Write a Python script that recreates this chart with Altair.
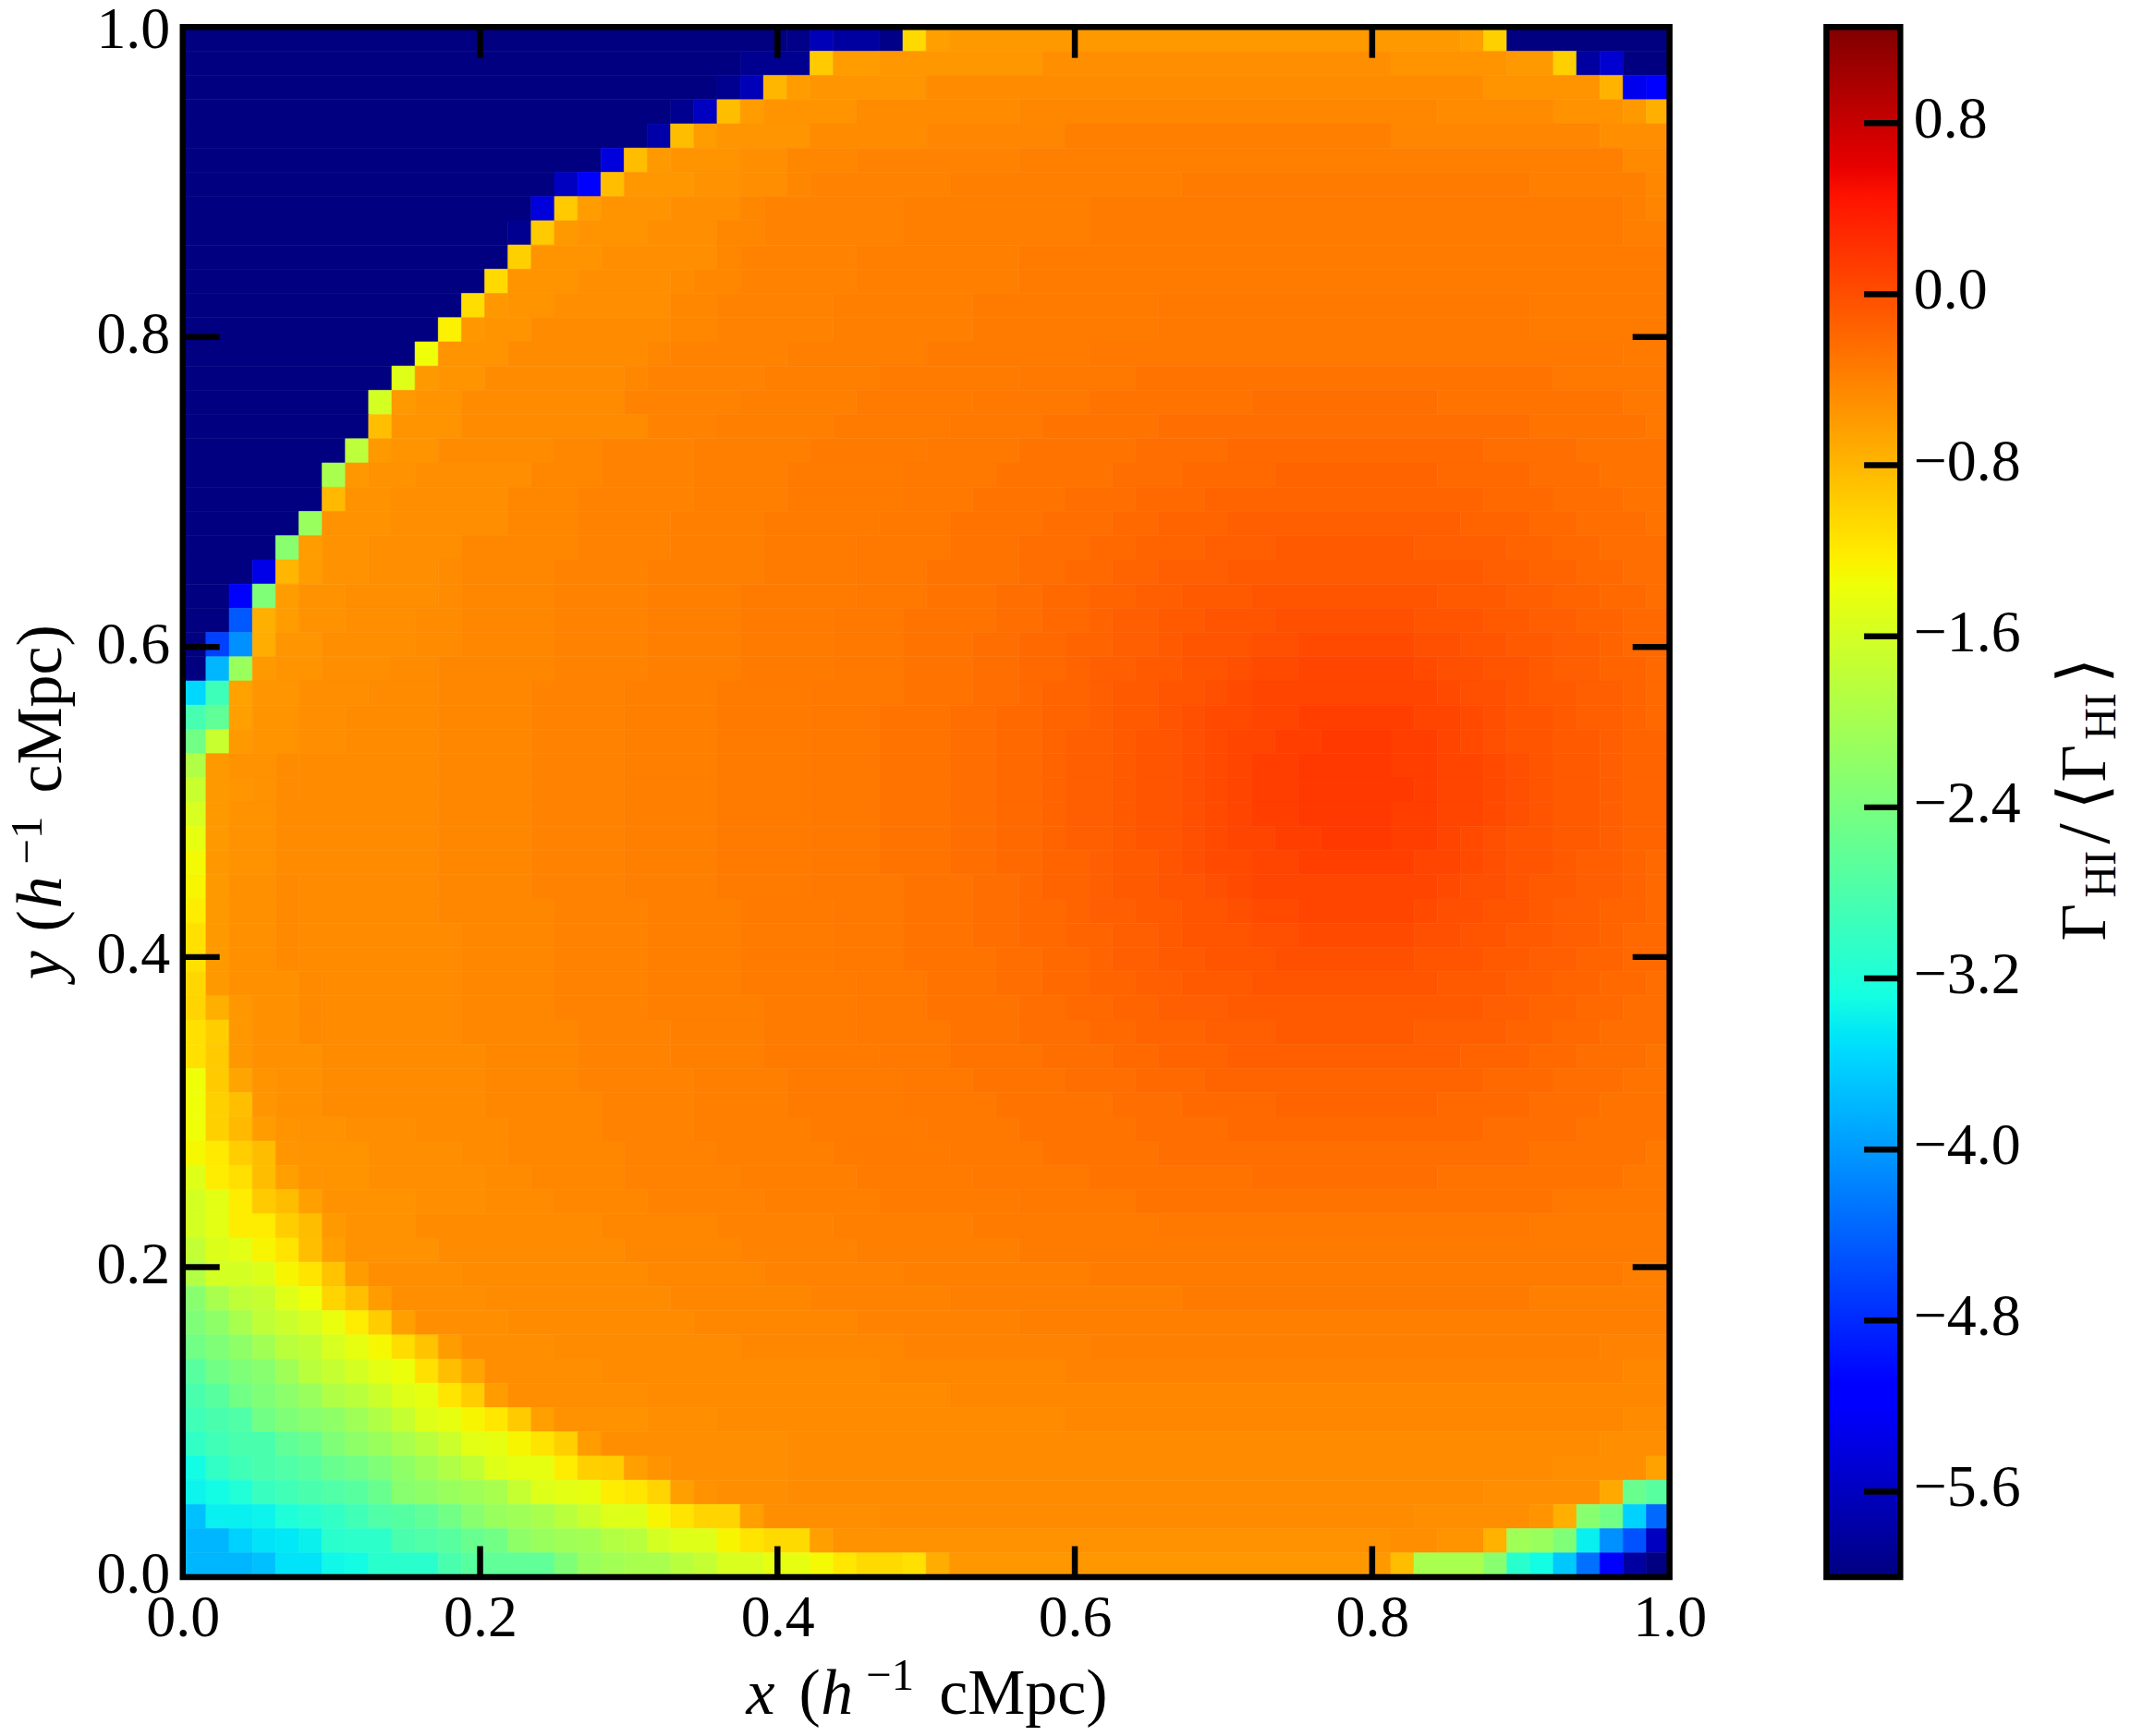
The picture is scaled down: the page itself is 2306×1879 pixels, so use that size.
import altair as alt
import pandas as pd

# Colour scale: jet, stops given in data units
STOP_T = [0, .11, .125, .34, .35, .375, .64, .65, .66, .89, .91, 1]
STOP_V = [-6.0, -5.2025, -5.094, -3.535, -3.4625, -3.281, -1.36, -1.2875, -1.215, .4525, .5975, 1.25]
STOP_C = ["#000080", "#0000ff", "#0000ff", "#00dbff", "#00e6f7", "#15ffe2",
          "#eeff08", "#f7f600", "#ffec00", "#ff1300", "#e80000", "#800000"]

AXIS_TICKS = [0.0, 0.2, 0.4, 0.6, 0.8, 1.0]
INNER_TICKS = [0.2, 0.4, 0.6, 0.8]
BAR_TICKS = [-5.6, -4.8, -4.0, -3.2, -2.4, -1.6, -0.8, 0.0, 0.8]

# Cell values, in hundredths, 64 x 64 grid.
LEVELS = [-47, -44, -41, -38, -35, -32, -29, -25, -21, -17, -13, -9, -5, -1, 3, 7, 12, 16]

INNER_LEFT = [
    [4,11,15,19,23,27,30,33,35,37,38,40,41,43,44,45,46,48],
    [4,11,15,19,23,27,30,33,35,37,38,40,41,43,44,45,46,48],
    [4,11,15,19,23,27,30,33,35,37,38,40,41,43,44,45,47,49],
    [4,11,15,19,23,27,30,33,35,37,39,40,42,43,44,46,48],
    [4,11,15,19,23,27,31,34,36,37,39,40,42,44,45,46],
    [4,11,16,20,24,28,31,34,36,38,39,41,43,45,46,48],
    [5,12,16,20,24,28,31,34,36,38,40,42,43,46,48],
    [5,12,16,20,24,28,31,35,37,39,40,42,44,47],
    [5,12,16,20,24,29,32,35,37,39,41,43,46],
    [5,12,16,20,25,29,32,36,38,40,42,45],
    [5,12,17,21,25,29,33,36,39,41,44,47],
    [5,13,17,21,25,30,33,37,40,42,45],
    [6,13,17,22,26,31,34,38,41,44],
    [6,13,18,22,26,31,35,40,43,47],
    [6,14,18,22,27,32,36,41,45],
    [6,14,19,23,28,33,37,42],
    [7,15,19,24,29,34,39,46],
    [8,16,20,25,30,36,41],
    [9,17,21,26,32,39],
    [9,18,23,28,34,42],
    [10,19,24,29,36],
    [11,20,25,31,39],
    [12,21,27,33,43],
    [13,22,29,36],
    [14,24,31,39],
    [16,27,34],
    [17,30,38],
    [20,33],
    [23,38],
    [26],
]
INNER_RIGHT = [
    [(53,12),(54,7),(56,3),(57,-1),(58,-5),(59,-9),(61,-13),(62,-17)],
    [(52,12),(54,7),(56,3),(57,-1),(58,-5),(59,-9),(61,-13),(62,-17)],
    [(52,12),(54,7),(55,3),(56,-1),(57,-5),(59,-9),(61,-13),(62,-17)],
    [(53,7),(55,3),(56,-1),(57,-5),(59,-9),(60,-13),(62,-17),(63,-21)],
    [(54,3),(55,-1),(57,-5),(58,-9),(60,-13),(62,-17),(63,-21)],
    [(53,3),(54,-1),(56,-5),(58,-9),(59,-13),(61,-17),(63,-21)],
    [(53,-1),(55,-5),(57,-9),(59,-13),(61,-17),(62,-21)],
    [(53,-5),(56,-9),(58,-13),(60,-17),(62,-21)],
    [(54,-9),(57,-13),(59,-17),(61,-21),(63,-25)],
    [(56,-13),(58,-17),(60,-21),(62,-25)],
    [(53,-13),(57,-17),(59,-21),(61,-25)],
    [(55,-17),(58,-21),(60,-25),(63,-29)],
    [(56,-21),(59,-25),(62,-29)],
    [(54,-21),(58,-25),(61,-29)],
    [(56,-25),(60,-29)],
    [(58,-29),(63,-32)],
    [(54,-29),(62,-32)],
    [(59,-32)],
    [(62,-35)],
    [(58,-35)],
    [],
    [(62,-38)],
    [(58,-38)],
    [],
    [(61,-41)],
    [],
    [(62,-44)],
    [],
    [(62,-47)],
    [],
]

# Which interior profile each row (0 = top) follows
ROW_PROFILE = [None, None, None, None, None, 23, 22, 21, 21, 20, 20, 19, 19, 18, 17, 16,
               15, 14, 13, 12, 11, 10, 9, 8, 7, 6, 5, 4, 3, 2, 1, 0,
               1, 2, 3, 4, 5, 6, 7, 8, 9, 10, 11, 12, 13, 14, 15, 16,
               17, 19, 20, 21, 22, 23, 24, 26, 27, 28, 29, 29, 29, None, None, None]

# Rows written out as (start column, value) runs
ROW_RUNS = {
    0: [(0,-600),(26,-595),(27,-565),(28,-580),(30,-595),(31,-108),(32,-62),(33,-58),(55,-62),(56,-100),(57,-600)],
    1: [(0,-600),(24,-590),(27,-95),(28,-60),(30,-56),(37,-50),(52,-53),(57,-58),(59,-100),(60,-580),(61,-550),(62,-600)],
    2: [(0,-600),(23,-590),(24,-565),(25,-80),(26,-60),(27,-55),(32,-48),(56,-53),(61,-78),(62,-530),(63,-520)],
    3: [(0,-600),(21,-590),(22,-560),(23,-85),(24,-60),(25,-54),(29,-47),(36,-44),(54,-47),(59,-52),(62,-58),(63,-75)],
    4: [(0,-600),(20,-575),(21,-85),(22,-60),(23,-55),(27,-47),(32,-43),(38,-38),(52,-43),(61,-50)],
    5: [(62,-46)],
    6: [(63,-44)],
    7: [(63,-42)],
    58: [(61,-50)],
    59: [(59,-50),(63,-65)],
    60: [(56,-50),(61,-70),(62,-255),(63,-269)],
    61: [(25,-50),(30,-48),(53,-50),(58,-53),(59,-75),(60,-226),(61,-247),(62,-360),(63,-435)],
    62: [(28,-52),(52,-50),(54,-53),(56,-77),(57,-206),(58,-211),(59,-234),(60,-339),(61,-407),(62,-452),(63,-560)],
    63: [(33,-56),(51,-58),(52,-85),(53,-198),(56,-226),(57,-310),(58,-330),(59,-367),(60,-430),(61,-520),(62,-580),(63,-600)],
}

# Left boundary of the disc: first column, then one value per column
ROW_EDGE = {
    5: (18, [-542,-85,-58,-53,-53,-53,-50,-50]),
    6: (16, [-560,-520,-87,-56,-56,-56,-52,-52,-50,-50]),
    7: (15, [-542,-95,-60,-53,-53,-53,-50,-50,-50]),
    8: (14, [-590,-95,-58,-53,-53,-53,-50,-50,-50]),
    9: (14, [-100,-54,-54,-54,-50,-50,-50,-50,-50]),
    10: (13, [-108,-54,-54,-54,-50,-50,-50,-50,-47]),
    11: (12, [-110,-56,-53,-53,-49,-49,-49,-49,-49]),
    12: (11, [-125,-56,-53,-53,-48,-48,-48,-48,-48,-48]),
    13: (10, [-136,-54,-54,-54,-48,-48,-48,-48,-48,-48]),
    14: (9, [-150,-58,-54,-54,-48,-48,-48,-48,-48,-48]),
    15: (8, [-160,-58,-54,-54,-48,-48,-48,-48,-48,-48,-48]),
    16: (8, [-87,-54,-54,-54,-47,-47,-47,-47,-47,-47,-47,-47]),
    17: (7, [-180,-58,-54,-54,-48,-48,-48,-48,-48]),
    18: (6, [-198,-57,-52,-52,-49,-49,-49,-49,-49]),
    19: (6, [-82,-52,-52,-49,-49,-49,-49,-49]),
    20: (5, [-211,-52,-52,-52,-49,-49,-49,-49,-49]),
    21: (4, [-226,-60,-52,-52,-49,-49,-49,-49]),
    22: (3, [-535,-80,-60,-52,-52,-49,-49,-49]),
    23: (2, [-520,-234,-61,-52,-52,-49,-49,-49,-49]),
    24: (2, [-447,-75,-60,-52,-52,-50,-50,-50]),
    25: (1, [-464,-407,-73,-55,-55,-49,-49,-49,-49]),
    26: (0, [-600,-379,-211,-58,-53,-53,-49,-49,-49]),
    27: (0, [-356,-293,-65,-55,-55,-49,-49,-49]),
    28: (0, [-285,-262,-62,-54,-54,-49,-49]),
    29: (0, [-247,-170,-58,-53,-53,-49,-49]),
    30: (0, [-191,-58,-52,-52,-48]),
    31: (0, [-170,-58,-55,-52,-48]),
    32: (0, [-156,-58,-52,-52,-47]),
    33: (0, [-143,-58,-52,-52,-47]),
    34: (0, [-132,-57,-52,-52,-47]),
    35: (0, [-128,-58,-51,-51,-46]),
    36: (0, [-122,-58,-51,-51,-46]),
    37: (0, [-112,-58,-51,-51,-46]),
    38: (0, [-112,-58,-51,-51,-46]),
    39: (0, [-105,-58,-51,-51,-51,-46]),
    40: (0, [-103,-75,-56,-51,-51,-46]),
    41: (0, [-112,-98,-56,-51,-51,-46]),
    42: (0, [-112,-95,-56,-51,-51,-51,-47,-47,-47]),
    43: (0, [-136,-95,-66,-53,-51,-51,-47,-47,-47]),
    44: (0, [-136,-100,-87,-55,-51,-51,-47]),
    45: (0, [-136,-100,-82,-60,-53,-52,-52,-49,-49,-49]),
    46: (0, [-130,-120,-98,-85,-55,-53,-53,-53,-50,-50,-50,-50]),
    47: (0, [-150,-122,-112,-85,-62,-54,-53,-53,-50,-50,-50,-50,-50]),
    48: (0, [-160,-147,-122,-95,-85,-63,-52,-52,-52,-52,-50,-50,-50]),
    49: (0, [-160,-147,-122,-122,-98,-85,-58,-52,-52,-52]),
    50: (0, [-175,-152,-147,-128,-115,-87,-63,-52,-52,-52,-52]),
    51: (0, [-188,-160,-160,-152,-128,-115,-90,-60,-50,-50,-50,-50]),
    52: (0, [-226,-198,-178,-172,-148,-136,-103,-87,-60,-50,-50,-50,-50]),
    53: (0, [-234,-220,-198,-178,-168,-156,-140,-122,-98,-63,-50,-50,-50,-50]),
    54: (0, [-247,-234,-220,-203,-182,-176,-156,-143,-130,-110,-90,-60,-50,-50,-50,-50]),
    55: (0, [-269,-247,-234,-226,-206,-182,-172,-160,-147,-138,-112,-87,-66,-50,-50,-50,-50,-50]),
    56: (0, [-282,-269,-247,-234,-223,-211,-191,-182,-168,-150,-143,-117,-98,-60,-50,-50,-50,-50,-50]),
    57: (0, [-290,-282,-276,-247,-234,-226,-220,-206,-191,-172,-150,-143,-128,-118,-95,-63,-52,-52,-52,-52]),
    58: (0, [-303,-290,-282,-282,-262,-255,-234,-220,-211,-198,-184,-168,-147,-143,-128,-115,-100,-60,-50,-50]),
    59: (0, [-330,-303,-290,-282,-276,-269,-255,-247,-234,-220,-206,-191,-176,-150,-143,-143,-122,-100,-98,-63,-54]),
    60: (0, [-336,-330,-318,-297,-290,-282,-276,-269,-255,-226,-220,-211,-206,-198,-172,-150,-147,-143,-122,-117,-103,-63,-52]),
    61: (0, [-373,-339,-339,-336,-320,-312,-303,-290,-276,-272,-262,-247,-226,-211,-206,-198,-182,-168,-150,-150,-128,-115,-103,-103,-63]),
    62: (0, [-379,-379,-360,-348,-345,-338,-310,-307,-307,-282,-276,-269,-255,-247,-220,-211,-206,-203,-188,-184,-160,-150,-150,-128,-115,-108,-108,-63]),
    63: (0, [-379,-379,-379,-373,-348,-348,-333,-330,-310,-310,-310,-282,-269,-262,-262,-262,-234,-211,-203,-198,-198,-184,-174,-155,-155,-143,-143,-132,-118,-108,-108,-112,-73]),
}

GRID = 64


def paint(cells, runs):
    for (start, value), nxt in zip(runs, list(runs[1:]) + [(GRID, None)]):
        for c in range(start, nxt[0]):
            cells[c] = value


records = []
for r in range(GRID):
    cells = [-50] * GRID
    k = ROW_PROFILE[r]
    if k is not None:
        paint(cells, list(zip(INNER_LEFT[k], LEVELS)) + INNER_RIGHT[k])
    if r in ROW_RUNS:
        paint(cells, ROW_RUNS[r])
    if r in ROW_EDGE:
        start, vals = ROW_EDGE[r]
        for c in range(start):
            cells[c] = -600
        for i, v in enumerate(vals):
            cells[start + i] = v
    c = 0
    while c < GRID:
        e = c
        while e + 1 < GRID and cells[e + 1] == cells[c]:
            e += 1
        records.append({"x": c / GRID, "x2": (e + 1) / GRID,
                        "y": (GRID - 1 - r) / GRID, "y2": (GRID - r) / GRID,
                        "v": cells[c] / 100})
        c = e + 1
cells_df = pd.DataFrame(records)

SERIF = "Liberation Serif"
LABEL_SIZE = 64
PLOT_W, PLOT_H = 1611, 1680
SPINE = 6.5
X_TICK_LEN = 33.5 / PLOT_H
Y_TICK_LEN = 40 / PLOT_W

xs = alt.Scale(domain=[0, 1], nice=False, zero=False)
ys = alt.Scale(domain=[0, 1], nice=False, zero=False)
cs = alt.Scale(domain=STOP_V, range=STOP_C, interpolate="rgb")

xaxis = alt.Axis(values=AXIS_TICKS, format=".1f", title=None, domain=False, ticks=False, grid=False,
                 labelFont=SERIF, labelFontSize=LABEL_SIZE, labelColor="black", labelPadding=13,
                 labelOverlap=False, labelFlush=False, labelBound=False)
yaxis = alt.Axis(values=AXIS_TICKS, format=".1f", title=None, domain=False, ticks=False, grid=False,
                 labelFont=SERIF, labelFontSize=LABEL_SIZE, labelColor="black", labelPadding=14,
                 labelOffset={"condition": {"test": "datum.value == 1", "value": 3}, "value": -2},
                 labelOverlap=False, labelFlush=False, labelBound=False)

heat = alt.Chart(cells_df).mark_rect(strokeWidth=0.6).encode(
    x=alt.X("x:Q", scale=xs, axis=xaxis),
    x2="x2:Q",
    y=alt.Y("y:Q", scale=ys, axis=yaxis),
    y2="y2:Q",
    color=alt.Color("v:Q", scale=cs, legend=None),
    stroke=alt.Stroke("v:Q", scale=cs, legend=None),
)

tick_rows = []
for t in INNER_TICKS:
    tick_rows += [
        {"x": t, "x2": t, "y": 0, "y2": X_TICK_LEN},
        {"x": t, "x2": t, "y": 1, "y2": 1 - X_TICK_LEN},
        {"x": 0, "x2": Y_TICK_LEN, "y": t, "y2": t},
        {"x": 1, "x2": 1 - Y_TICK_LEN, "y": t, "y2": t},
    ]


def frame_and_ticks(tick_df, x_scale, y_scale, x_axis, y_axis):
    rules = alt.Chart(tick_df).mark_rule(color="black", strokeWidth=SPINE).encode(
        x=alt.X("x:Q", scale=x_scale, axis=x_axis), x2="x2:Q",
        y=alt.Y("y:Q", scale=y_scale, axis=y_axis), y2="y2:Q")
    dom = y_scale.domain
    box = alt.Chart(pd.DataFrame({"a": [0], "b": [1], "c": [dom[0]], "d": [dom[1]]})).mark_rect(
        filled=False, stroke="black", strokeWidth=SPINE).encode(
        x=alt.X("a:Q", scale=x_scale, axis=x_axis), x2="b:Q",
        y=alt.Y("c:Q", scale=y_scale, axis=y_axis), y2="d:Q")
    return [rules, box]


def piece(text, px, py, size, ox, oy, italic=False, angle=0, font=SERIF):
    return alt.Chart(pd.DataFrame({"t": [text]})).mark_text(
        font=font, fontSize=size, fontStyle="italic" if italic else "normal",
        angle=angle, align="left", baseline="alphabetic", color="black",
    ).encode(text="t:N", x=alt.value(px - ox), y=alt.value(py - oy))


OX, OY = 194.5, 29.5
main_text = [
    piece("x", 805, 1858, 70, OX, OY, italic=True),
    piece("(", 862, 1858, 70, OX, OY),
    piece("h", 886, 1858, 70, OX, OY, italic=True),
    piece("\u22121", 935, 1832, 49, OX, OY),
    piece("cMpc)", 1014, 1858, 70, OX, OY),
    piece("y", 63, 1062, 70, OX, OY, italic=True, angle=270),
    piece("(", 63, 1010, 70, OX, OY, angle=270),
    piece("h", 63, 985, 70, OX, OY, italic=True, angle=270),
    piece("\u22121", 42, 937, 49, OX, OY, angle=270),
    piece("cMpc)", 63, 860, 70, OX, OY, angle=270),
]

main = alt.layer(heat, *frame_and_ticks(pd.DataFrame(tick_rows), xs, ys, xaxis, yaxis), *main_text).properties(
    width=PLOT_W, height=PLOT_H)

# Colour bar
bx = alt.Scale(domain=[0, 1], nice=False, zero=False)
by = alt.Scale(domain=[-6.0, 1.25], nice=False, zero=False)
gradient = alt.LinearGradient(
    gradient="linear", x1=0, x2=0, y1=1, y2=0,
    stops=[alt.GradientStop(color=c, offset=t) for t, c in zip(STOP_T, STOP_C)])
bar_axis = alt.Axis(values=BAR_TICKS, format=".1f", title=None, domain=False, ticks=False, grid=False,
                    orient="right", labelFont=SERIF, labelFontSize=LABEL_SIZE, labelColor="black",
                    labelPadding=14, labelOffset=-3.5, labelOverlap=False, labelFlush=False, labelBound=False)
bar_rect = alt.Chart(pd.DataFrame({"a": [0], "b": [1], "c": [-6.0], "d": [1.25]})).mark_rect(color=gradient).encode(
    x=alt.X("a:Q", scale=bx, axis=None), x2="b:Q",
    y=alt.Y("c:Q", scale=by, axis=bar_axis), y2="d:Q")
BAR_TICK_LEN = 39.2 / 80
bar_ticks = pd.DataFrame([{"x": 1, "x2": 1 - BAR_TICK_LEN, "y": t, "y2": t} for t in BAR_TICKS])
BX = 1975.5
bar_text = [
    piece("\u0393", 2277, 1020, 70, BX, OY, angle=270),
    piece("HI", 2288, 973, 48, BX, OY, angle=270),
    piece("/", 2281, 915, 80, BX, OY, angle=270),
    piece("\u27e8", 2277, 878, 72, BX, OY, angle=270, font="DejaVu Sans"),
    piece("\u0393", 2277, 848, 70, BX, OY, angle=270),
    piece("HI", 2288, 802, 48, BX, OY, angle=270),
    piece("\u27e9", 2277, 741, 72, BX, OY, angle=270, font="DejaVu Sans"),
]
bar = alt.layer(bar_rect, *frame_and_ticks(bar_ticks, bx, by, None, bar_axis), *bar_text).properties(width=80, height=PLOT_H)

chart = alt.hconcat(main, bar, spacing=170, bounds="flush").properties(
    padding={"left": -2, "top": -10, "right": -1, "bottom": 0}
).configure_view(stroke=None).configure(background="white")

chart.save("out.html", embed_options={"renderer": "svg", "actions": False})
